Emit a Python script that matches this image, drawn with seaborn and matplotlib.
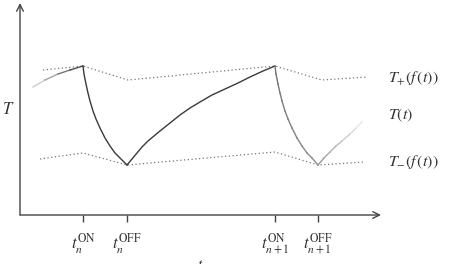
import numpy as np
import pandas as pd
import seaborn as sns
import matplotlib.pyplot as plt

# schematic temperature trace, t / T in chart units
rise0_t = [13, 25, 38, 50, 63]
rise0_T = [128, 135, 141, 145, 149]
fall1_t = [63, 64, 66, 68, 70, 73, 76, 80, 85, 90, 95, 100, 107]
fall1_T = [149, 141, 131, 122, 114, 104, 96, 87, 77, 69, 62, 57, 50]
rise2_t = [107, 112, 117, 122, 128, 134, 140, 150, 160, 170, 180, 192, 205,
           218, 230, 243, 255]
rise2_T = [50, 56, 62, 68, 74, 79, 84, 92, 100, 107, 113, 120, 126,
           132, 138, 144, 149]
fall3_t = [255, 256, 258, 260, 262, 265, 268, 272, 277, 282, 287, 292, 298]
fall3_T = [149, 141, 131, 122, 114, 104, 96, 87, 77, 69, 62, 57, 50]
rise4_t = [298, 304, 310, 316, 322, 330, 336, 342]
rise4_T = [50, 57, 63, 69, 74, 81, 87, 93]

upper_t = [23, 63, 108, 255, 302, 347]
upper_T = [145, 149, 135, 149, 135, 138]
lower_t = [20, 63, 107, 255, 298, 345]
lower_T = [56, 62, 50, 63, 50, 53]

tick_t = [63, 107, 255, 298]
tick_labels = [r"$t_n^{\mathrm{ON}}$", r"$t_n^{\mathrm{OFF}}$",
               r"$t_{n+1}^{\mathrm{ON}}$", r"$t_{n+1}^{\mathrm{OFF}}$"]

plt.rcParams["mathtext.fontset"] = "stix"
plt.rcParams["font.family"] = ["STIXGeneral", "DejaVu Serif"]

fig = plt.figure(figsize=(4.49, 2.64), dpi=100)
ax = fig.add_axes([0, 0, 1, 1])
ax.set_xlim(-20, 429)
ax.set_ylim(-49, 215)
ax.axis("off")


def faded(ts, Ts, c0, c1):
    g = np.linspace(c0, c1, len(ts) - 1)
    for i in range(len(ts) - 1):
        sns.lineplot(x=ts[i:i + 2], y=Ts[i:i + 2], ax=ax, color=str(g[i]),
                     lw=1.0, sort=False)


# bounds
sns.lineplot(x=upper_t, y=upper_T, ax=ax, color="#777777", lw=0.9,
             ls=(0, (1, 2)), sort=False)
sns.lineplot(x=lower_t, y=lower_T, ax=ax, color="#777777", lw=0.9,
             ls=(0, (1, 2)), sort=False)

# temperature trace
faded(rise0_t, rise0_T, 0.8, 0.3)
sns.lineplot(x=fall1_t, y=fall1_T, ax=ax, color="#3a3a3a", lw=1.0, sort=False)
sns.lineplot(x=rise2_t, y=rise2_T, ax=ax, color="#3a3a3a", lw=1.0, sort=False)
faded(fall3_t, fall3_T, 0.45, 0.55)
faded(rise4_t, rise4_T, 0.6, 0.9)

# axes with arrows
arrow = dict(arrowstyle="->", color="#444444", lw=1.0, mutation_scale=12,
             shrinkA=0, shrinkB=0)
ax.annotate("", xy=(0, 212), xytext=(0, 0), arrowprops=arrow)
ax.annotate("", xy=(361, 0), xytext=(0, 0), arrowprops=arrow)

ax.vlines(tick_t, -7, 0, color="#444444", lw=1.0)
for t, lab in zip(tick_t, tick_labels):
    ax.text(t, -16, lab, ha="center", va="top", fontsize=12, color="#333333")

ax.text(-12, 105, r"$T$", ha="center", va="center", fontsize=12, color="#333333")
ax.text(368, 137, r"$T_{+}(f\,(t))$", ha="left", va="center", fontsize=11.5,
        color="#333333")
ax.text(368, 100, r"$T(t)$", ha="left", va="center", fontsize=11.5,
        color="#333333")
ax.text(368, 53, r"$T_{-}(f\,(t))$", ha="left", va="center", fontsize=11.5,
        color="#333333")
ax.text(180, -44, r"$t$", ha="center", va="top", fontsize=11, color="#333333")

fig.savefig("out.png", dpi=100)
